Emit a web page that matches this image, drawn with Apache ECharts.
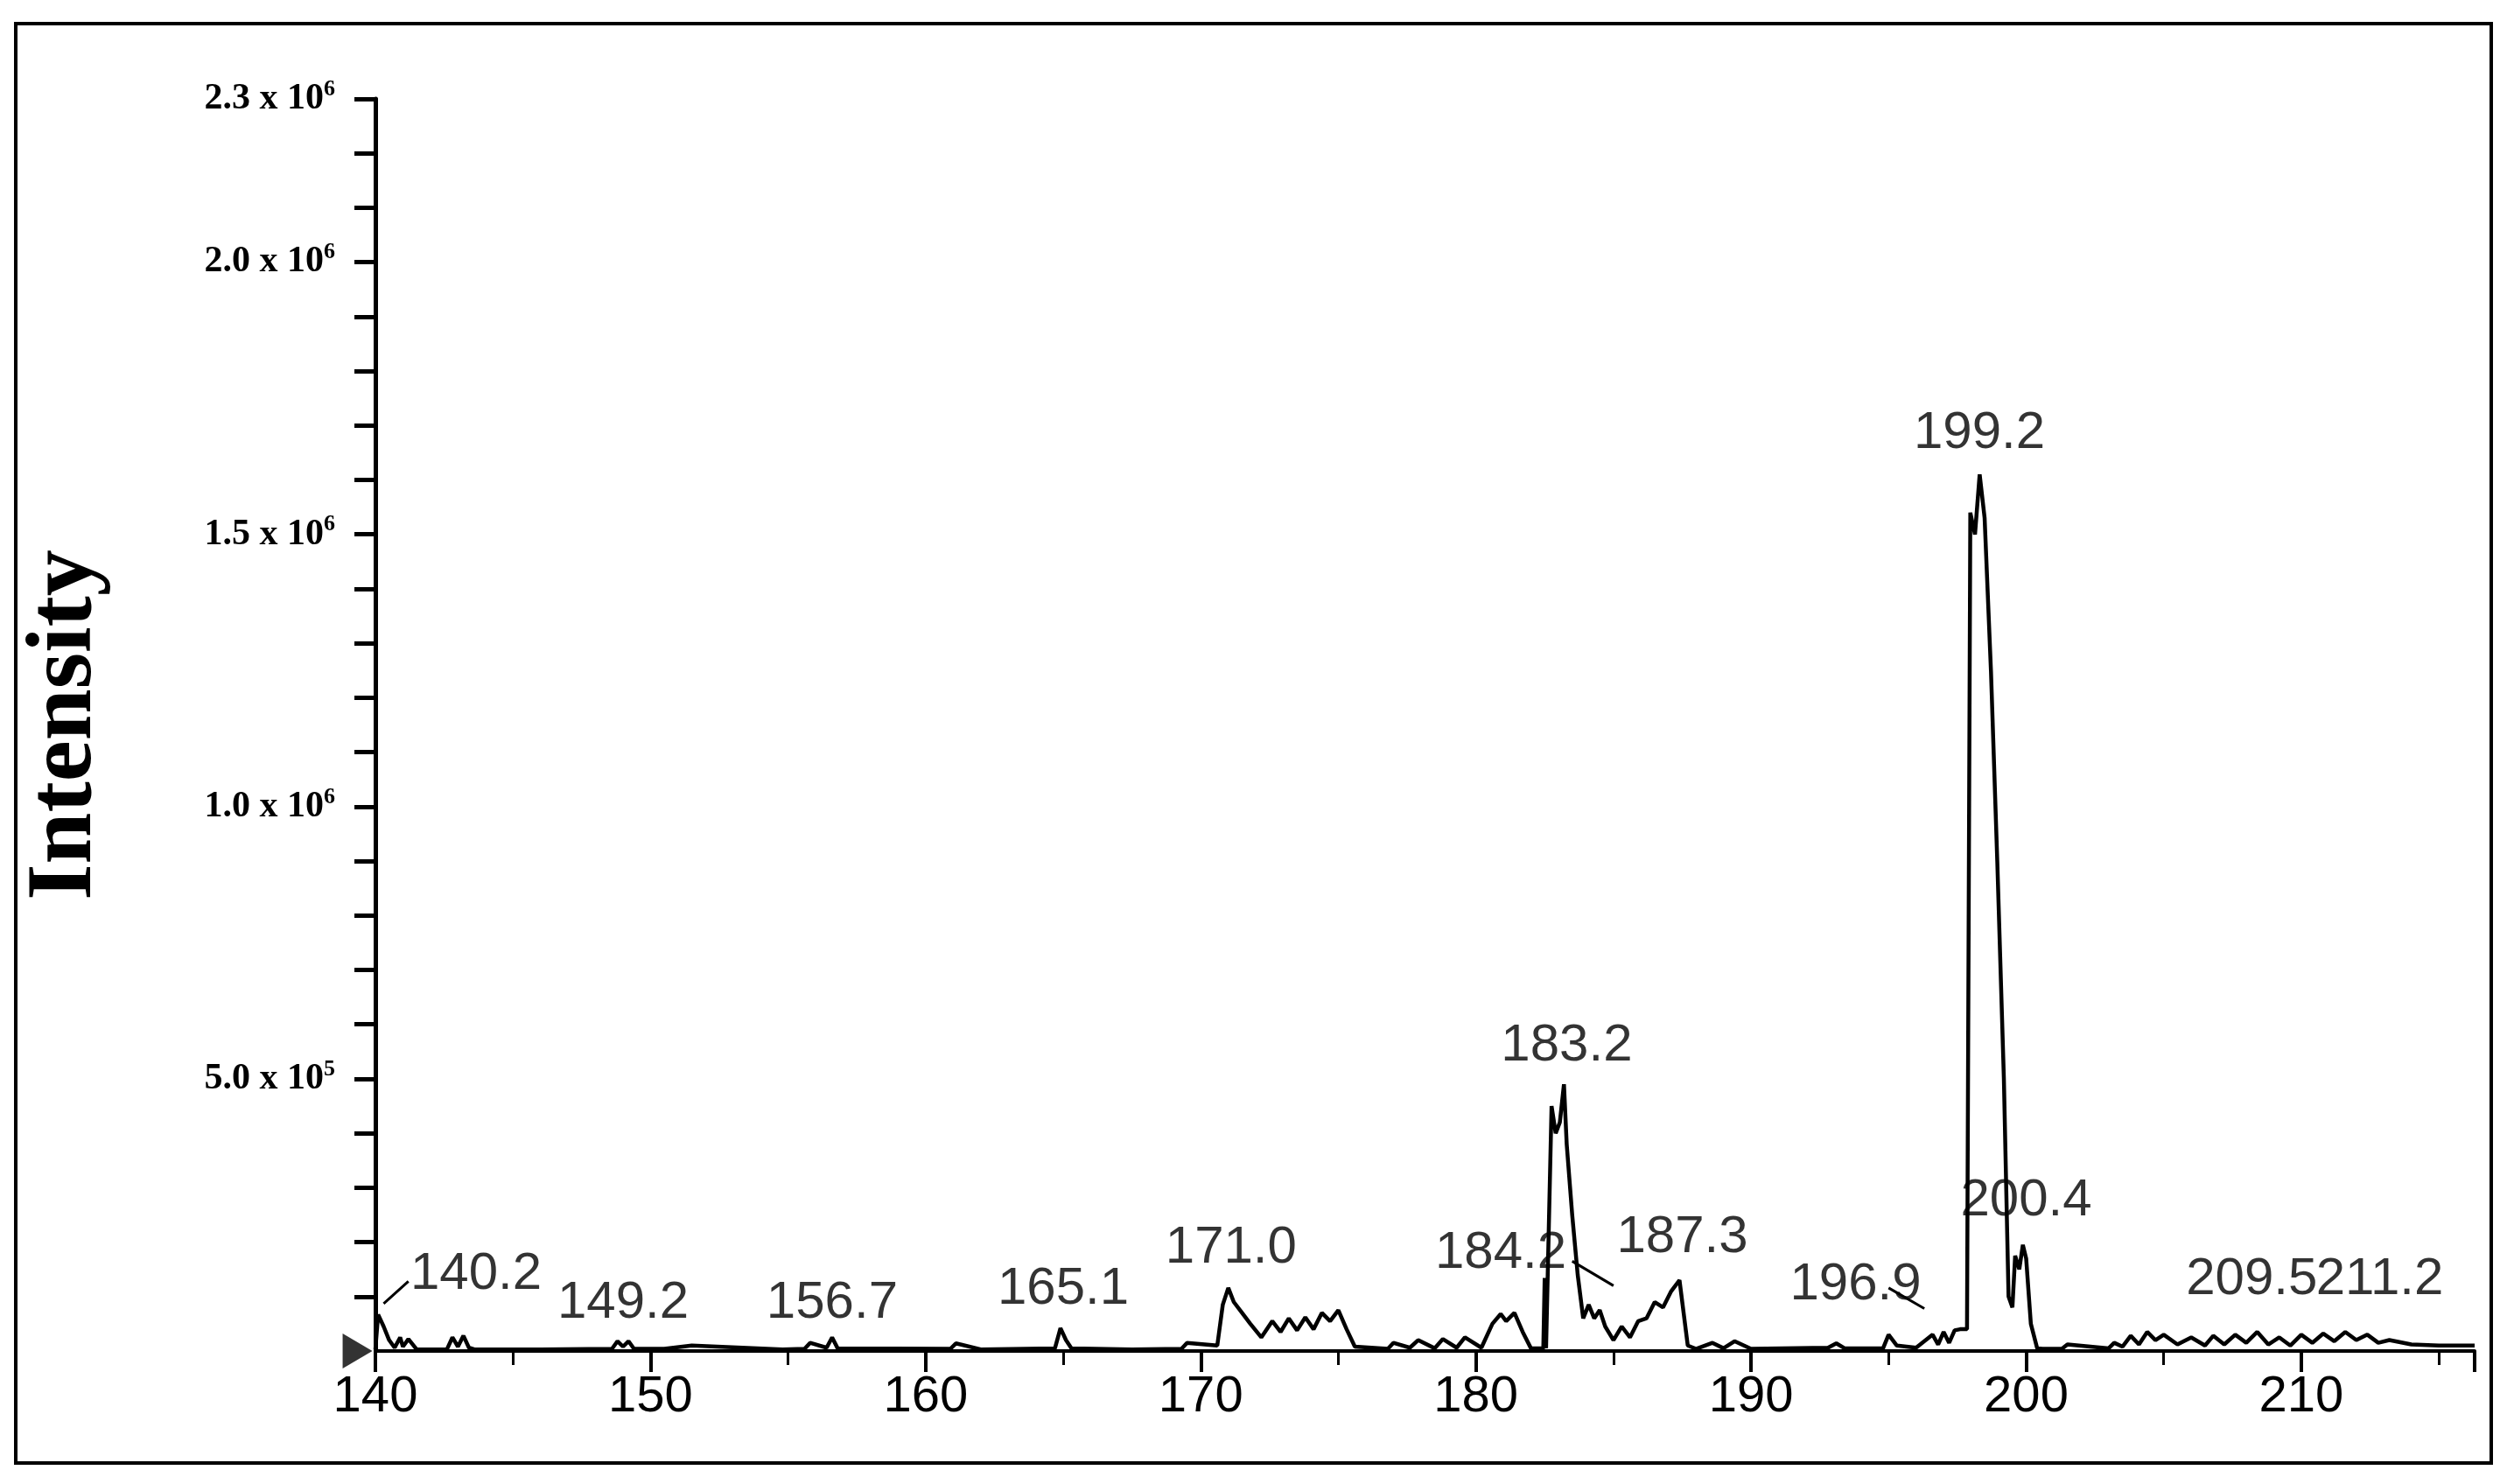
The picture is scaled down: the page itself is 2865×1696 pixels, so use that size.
<!DOCTYPE html>
<html><head><meta charset="utf-8">
<script src="https://cdn.jsdelivr.net/npm/echarts@6/dist/echarts.min.js"></script>
<style>html,body{margin:0;padding:0;background:#fff}#c{width:2865px;height:1696px}</style>
</head><body><div id="c"></div>
<script>
// m/z trace (x) and intensity (y)
const mz = [140.0,140.1,140.3,140.5,140.7,140.9,141.0,141.2,141.5,142.6,142.8,143.0,143.2,143.4,143.6,146.0,148.6,148.8,149.0,149.2,149.4,150.5,151.5,154.8,155.6,155.8,156.4,156.6,156.8,160.9,161.1,162.0,164.7,164.9,165.1,165.3,167.5,169.3,169.5,170.6,170.8,171.0,171.2,171.5,171.8,172.2,172.6,172.9,173.2,173.5,173.8,174.1,174.4,174.7,175.0,175.3,175.6,176.8,177.0,177.6,177.9,178.5,178.8,179.3,179.6,180.2,180.6,180.9,181.1,181.4,181.7,182.0,182.45,182.5,182.55,182.75,182.9,183.05,183.2,183.3,183.5,183.7,183.9,184.1,184.3,184.5,184.7,185.0,185.3,185.6,185.9,186.2,186.5,186.8,187.1,187.4,187.7,188.0,188.6,189.0,189.4,190.0,192.8,193.1,193.4,194.8,195.0,195.3,196.0,196.6,196.8,197.0,197.2,197.4,197.6,197.85,197.97,198.14,198.31,198.49,198.72,198.95,199.19,199.36,199.5,199.6,199.75,199.88,200.0,200.17,200.4,200.6,201.3,201.5,203.0,203.2,203.5,203.8,204.1,204.4,204.7,205.0,205.5,206.0,206.5,206.8,207.2,207.6,208.0,208.4,208.8,209.2,209.6,210.0,210.4,210.8,211.2,211.6,212.0,212.4,212.8,213.2,214.0,215.0,216.3];
const intensity = [3000,67000,45000,20000,6000,25000,8000,22000,3000,3000,25000,8000,28000,6000,3000,3000,4000,18000,8000,18000,4000,4000,10000,3000,4000,15000,6000,25000,5000,4000,14000,3000,5000,42000,20000,5000,3000,4000,15000,10000,85000,116000,90000,70000,50000,25000,55000,35000,60000,38000,62000,40000,70000,55000,75000,40000,8000,4000,15000,6000,20000,5000,22000,6000,25000,6000,50000,68000,55000,70000,35000,5000,5000,134000,5000,450000,400000,420000,490000,380000,250000,140000,60000,85000,60000,75000,45000,20000,45000,25000,55000,60000,90000,80000,110000,130000,10000,4000,15000,5000,18000,4000,6000,14000,5000,5000,30000,10000,6000,30000,12000,35000,15000,38000,40000,40000,1540000,1500000,1610000,1530000,1250000,900000,500000,100000,80000,175000,150000,195000,170000,50000,5000,4000,4000,12000,5000,15000,8000,28000,12000,35000,20000,30000,12000,25000,10000,28000,12000,30000,15000,35000,12000,25000,10000,30000,15000,32000,18000,35000,20000,30000,15000,20000,12000,10000,10000];
// peak annotation labels and their positions
const peakLabels = ['140.2','149.2','156.7','165.1','171.0','184.2','183.2','187.3','196.9','199.2','200.4','209.5','211.2'];
const labelX = [143.66,149.0,156.6,165.0,171.1,180.9,183.3,187.5,193.8,198.3,200.0,208.2,212.85];
const labelY = [140000,87000,87000,113000,189000,180000,561000,209000,122000,1686000,276000,131000,131000];
// leader lines [x1,y1,x2,y2]
const leaders = [[141.2,128000,140.3,87000],[183.5,165000,185.0,120000],[195.0,116000,196.3,78000]];
const xTicks = [140,150,160,170,180,190,200,210];
const yLabelValues = [500000,1000000,1500000,2000000,2300000];

const chart = echarts.init(document.getElementById('c'));
const leaderData = [];
leaders.forEach(l => { leaderData.push([l[0],l[1]],[l[2],l[3]],null); });
function yfmt(v){
  const hit = yLabelValues.find(t => Math.abs(t - v) < 1);
  if (hit === undefined) return '';
  const e = hit >= 1e6 ? 6 : 5;
  const m = (hit / Math.pow(10, e)).toFixed(1);
  return '{b|' + m + ' x 10}{s|' + e + '}';
}
chart.setOption({
  animation:false,
  grid:{left:429,right:37,top:113,bottom:152},
  graphic:[{type:'rect',shape:{x:18,y:27,width:2829,height:1645},style:{fill:'none',stroke:'#000',lineWidth:4}}],
  xAxis:{type:'value',min:140,max:216.3,interval:10,
    axisLine:{lineStyle:{color:'#000',width:4}},
    axisTick:{length:24,lineStyle:{color:'#000',width:4}},
    minorTick:{show:true,splitNumber:2,length:16,lineStyle:{color:'#000',width:3}},
    splitLine:{show:false},showMaxLabel:false,
    axisLabel:{color:'#000',fontSize:58,fontFamily:'Liberation Sans',margin:24,
      formatter:v=>xTicks.includes(Math.round(v))?String(Math.round(v)):''}},
  yAxis:{type:'value',min:0,max:2300000,interval:100000,
    name:'Intensity',nameLocation:'middle',nameGap:300,
    nameTextStyle:{fontFamily:'Liberation Serif',fontWeight:'bold',fontSize:106,color:'#000'},
    axisLine:{show:true,lineStyle:{color:'#000',width:5}},
    axisTick:{length:24,lineStyle:{color:'#000',width:5}},
    splitLine:{show:false},
    axisLabel:{formatter:yfmt,margin:46,showMinLabel:false,
      rich:{b:{fontFamily:'Liberation Serif',fontWeight:'bold',fontSize:42,color:'#000'},
            s:{fontFamily:'Liberation Serif',fontWeight:'bold',fontSize:26,color:'#000',verticalAlign:'top',padding:[0,0,22,0]}}}},
  series:[
    {type:'line',data:mz.map((x,i)=>[x,intensity[i]]),showSymbol:false,
     lineStyle:{color:'#000',width:4.5}},
    {type:'line',data:leaderData,showSymbol:false,connectNulls:false,lineStyle:{color:'#000',width:3}},
    {type:'scatter',data:labelX.map((x,i)=>[x,labelY[i],peakLabels[i]]),symbolSize:0,
     label:{show:true,position:'inside',formatter:p=>p.data[2],color:'#000',textBorderWidth:0,fontSize:60,fontFamily:'Liberation Sans'}},
    {type:'scatter',data:[[139.35,0]],symbol:'triangle',symbolRotate:-90,symbolSize:[40,34],clip:false,itemStyle:{color:'#000'}}
  ]
});
</script></body></html>
